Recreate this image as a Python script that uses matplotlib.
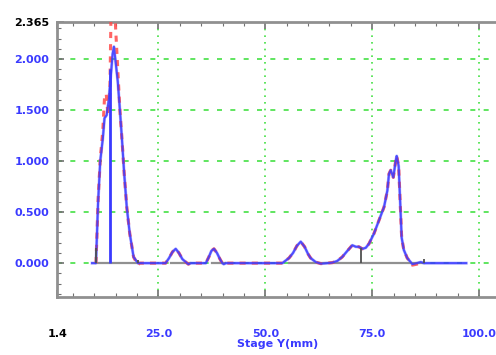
import matplotlib
matplotlib.use("Agg")
import matplotlib.pyplot as plt
from matplotlib.ticker import MultipleLocator

# Measured profile (blue) and fitted profile (red, dashed) along stage Y
profile_x = [9.5, 10.4, 10.65, 10.9, 11.4, 12.0, 12.4, 12.9, 13.4, 13.9, 14.3, 14.6,
             15.0, 15.5, 16.0, 16.5, 17.0, 17.6, 18.3, 19.2, 20.2,
             26.7, 27.5, 28.3, 29.05, 29.8, 30.6, 31.4, 32.0, 32.6,
             36.1, 36.8, 37.4, 38.0, 38.7, 39.4, 39.95, 40.3, 40.75,
             54.0, 55.55, 56.5, 57.4, 58.3, 59.2, 60.0, 60.6, 61.8, 63.0, 64.5,
             65.7, 66.8, 68.0, 69.2, 70.35, 71.2, 71.9, 72.7, 73.5, 74.26, 75.43,
             76.6, 77.78, 78.55, 78.94, 79.34, 79.95, 80.5, 80.74, 81.2, 81.6,
             81.9, 82.4, 83.2, 84.4, 85.5, 86.35, 87.1, 97.0]
profile_y = [0.0, 0.0, 0.3, 0.6, 1.0, 1.22, 1.42, 1.45, 1.6, 1.85, 2.05, 2.12,
             1.97, 1.78, 1.5, 1.2, 0.88, 0.55, 0.29, 0.06, 0.0,
             0.0, 0.05, 0.11, 0.14, 0.1, 0.04, 0.01, -0.01, 0.0,
             0.0, 0.06, 0.12, 0.14, 0.1, 0.04, 0.0, -0.01, 0.0,
             0.0, 0.05, 0.1, 0.17, 0.21, 0.16, 0.09, 0.05, 0.01, -0.005, 0.0,
             0.005, 0.02, 0.06, 0.12, 0.175, 0.16, 0.16, 0.14, 0.15, 0.19, 0.29,
             0.42, 0.55, 0.71, 0.875, 0.91, 0.84, 1.0, 1.05, 0.95, 0.55,
             0.25, 0.13, 0.05, -0.01, 0.0, 0.01, 0.0, 0.0]

fit_x = [10.4, 10.65, 10.9, 11.4, 12.0, 12.4, 12.8, 13.2, 13.6, 13.9, 14.2, 14.7,
         15.0, 15.5, 16.0, 16.5, 17.0, 17.6, 18.3, 19.2, 20.2, 20.6,
         26.7, 27.5, 28.3, 29.05, 29.8, 30.6, 31.4, 32.0, 32.6,
         36.1, 36.8, 37.4, 38.0, 38.7, 39.4, 39.95, 40.3, 40.75,
         54.0, 55.55, 56.5, 57.4, 58.3, 59.2, 60.0, 60.6, 61.8, 63.0, 64.5,
         65.7, 66.8, 68.0, 69.2, 70.35, 71.2, 71.9, 72.7, 73.5, 74.26, 75.43,
         76.6, 77.78, 78.55, 78.94, 79.34, 79.95, 80.5, 80.74, 81.2, 81.6,
         81.9, 82.4, 83.2, 84.4, 85.5, 86.35]
fit_y = [0.0, 0.3, 0.62, 1.02, 1.3, 1.62, 1.66, 1.45, 1.5, 2.4, 2.6, 2.6,
         2.3, 1.9, 1.5, 1.2, 0.88, 0.55, 0.29, 0.06, -0.02, 0.0,
         0.0, 0.05, 0.11, 0.14, 0.1, 0.04, 0.01, -0.01, 0.0,
         0.0, 0.06, 0.12, 0.14, 0.1, 0.04, 0.0, -0.01, 0.0,
         0.0, 0.05, 0.1, 0.17, 0.21, 0.16, 0.09, 0.05, 0.01, -0.005, 0.0,
         0.005, 0.02, 0.06, 0.12, 0.175, 0.16, 0.16, 0.14, 0.15, 0.19, 0.29,
         0.42, 0.55, 0.71, 0.875, 0.91, 0.84, 1.0, 1.05, 0.95, 0.55,
         0.25, 0.13, 0.05, -0.02, -0.01, 0.0]

# Integration baselines (start, end) and peak boundary markers (x, height)
baseline_spans = [(10.4, 20.2), (28.0, 32.4), (37.6, 40.6), (55.5, 87.1)]
boundary_x = [10.4, 20.2, 72.3, 87.1]
boundary_h = [0.15, 0.03, 0.15, 0.04]
split_x = [13.7]
split_h = [1.9]

x_ticks = [1.4, 25.0, 50.0, 75.0, 100.0]
x_tick_labels = ["1.4", "25.0", "50.0", "75.0", "100.0"]
y_ticks = [0.0, 0.5, 1.0, 1.5, 2.0, 2.365]
y_tick_labels = ["0.000", "0.500", "1.000", "1.500", "2.000", "2.365"]
x_grid = [25.0, 50.0, 75.0, 100.0]
y_grid = [0.0, 0.5, 1.0, 1.5, 2.0]

BLUE = "#3a3aff"
RED = "#ff4a4a"
GREEN = "#44e044"
GRAY = "#909090"

fig = plt.figure(figsize=(4.96, 3.55), dpi=100)
ax = fig.add_axes([0.1159, 0.1625, 0.8887, 0.7763])
ax.set_xlim(1.4, 104.5)
ax.set_ylim(-0.335, 2.365)

for gx in x_grid:
    ax.axvline(gx, color=GREEN, lw=1.2, ls=(0, (1, 3)), zorder=1)
for gy in y_grid:
    ax.axhline(gy, color=GREEN, lw=1.2, ls=(0, (3, 5)), zorder=1)

ax.plot(profile_x, profile_y, color=BLUE, lw=2.2, alpha=0.35, zorder=2)
for x0, x1 in baseline_spans:
    ax.plot([x0, x1], [0, 0], color=GRAY, lw=1.6, zorder=3)
ax.plot(fit_x, fit_y, color=RED, lw=2.2, ls=(0, (2, 2)), alpha=0.85, zorder=4)
ax.plot(profile_x, profile_y, color=BLUE, lw=1.5, alpha=0.85, zorder=5)
ax.vlines(split_x, 0, split_h, color=BLUE, lw=2.0, zorder=5)
ax.vlines(boundary_x, 0, boundary_h, color="#505050", lw=1.3, zorder=6)

ax.set_xticks(x_ticks)
ax.set_xticklabels(x_tick_labels)
ax.set_yticks(y_ticks)
ax.set_yticklabels(y_tick_labels)
ax.xaxis.set_minor_locator(MultipleLocator(5))
ax.yaxis.set_minor_locator(MultipleLocator(0.1))

ax.tick_params(axis="both", which="both", direction="in", color="#707070",
               top=True, right=False)
ax.tick_params(axis="both", which="major", length=5, width=1.2)
ax.tick_params(axis="both", which="minor", length=3, width=0.8)
ax.tick_params(axis="x", which="major", pad=23)
ax.tick_params(axis="y", which="major", pad=6)

for lbl in ax.get_xticklabels() + ax.get_yticklabels():
    lbl.set_fontsize(8)
    lbl.set_fontweight("bold")
    lbl.set_color(BLUE)
ax.get_xticklabels()[0].set_color("black")
ax.get_yticklabels()[-1].set_color("black")

ax.set_xlabel("Stage Y(mm)", fontsize=8, fontweight="bold", color=BLUE, labelpad=0)

for side in ("left", "bottom", "top"):
    ax.spines[side].set_color(GRAY)
    ax.spines[side].set_linewidth(2)
ax.spines["right"].set_visible(False)

fig.savefig("out.png", dpi=100)
